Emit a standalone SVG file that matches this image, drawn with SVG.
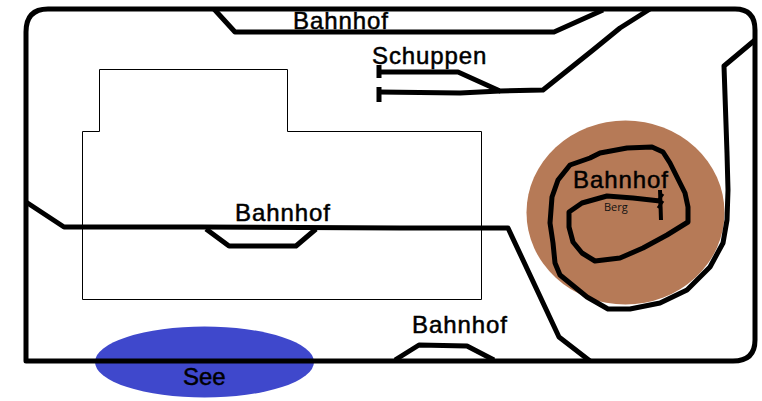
<svg xmlns="http://www.w3.org/2000/svg" width="762" height="401" viewBox="0 0 762 401">
<style>
.t{fill:none;stroke:#000;stroke-width:5;stroke-linejoin:round}
.b{fill:none;stroke:#000;stroke-width:1}
.l{font-family:"Liberation Sans",Arial,sans-serif;font-size:24px;letter-spacing:.9px;fill:#000;stroke:#000;stroke-width:.5px}
</style>
<rect width="762" height="401" fill="#fff"/>
<g id="berg"><ellipse cx="625.500" cy="212.500" rx="99" ry="92" fill="#b67a57"/></g>
<g id="see"><ellipse cx="204.500" cy="362" rx="109.500" ry="35.500" fill="#3f48cc"/></g>
<g id="gebaeude"><path class="b" d="M100 69.500H287.500V131.500H481.500V299.500H82.500V131.500H99.500V69.500Z"/></g>
<g id="connectors">
<path class="t" d="M26 200V32Q26 9 48 9H735Q755 9 755 30V340Q755 361 733 361H26V200"/>
<path class="t" d="M26 202L64 227H200L400 228H508L559 337L590 361"/>
<path class="t" d="M214 9L235 32H554L603 10"/>
<path class="t" d="M650 9L620 28L593 50L543 90L500 91L458 72H379"/>
<path class="t" d="M379 92L460 93L500 91"/>
<path class="t" d="M379 65V78M379 87V102"/>
<path class="t" d="M206 229L229 246H296L316 229"/>
<path class="t" d="M395 360L419 345L467 346L494 360"/>
<path class="t" d="M755 40L724 66L727 153L728 190L727 220L723 243L710 267L687 290L660 303L630 309L608 309L587 297L560 275L555 263L553 243L550 223L552 197L558 180L570 165L590 158L600 153L627 148L652 147L663 152L670 163L677 177L685 193L688 207L688 222L667 235L643 248L620 258L595 261L582 253L573 242L569 227L569 212L582 203L607 196L633 198L660 201"/>
<path class="t" d="M660 190L661 220" style="stroke-width:4"/>
<path class="t" d="M658 201L663 194M658 208L663 201" style="stroke-width:3"/>
</g>
<g id="label-bahnhof-1"><text class="l" x="293" y="29">Bahnhof</text></g>
<g id="label-schuppen"><text class="l" x="372" y="64">Schuppen</text></g>
<g id="label-bahnhof-2"><text class="l" x="573" y="188">Bahnhof</text></g>
<g id="label-berg"><text x="604" y="211" style="font-family:'Open Sans','Noto Sans',sans-serif;font-size:11px;fill:#111">Berg</text></g>
<g id="label-bahnhof-3"><text class="l" x="235" y="221">Bahnhof</text></g>
<g id="label-bahnhof-4"><text class="l" x="412" y="333">Bahnhof</text></g>
<g id="label-see"><text class="l" x="183" y="385" style="letter-spacing:0">See</text></g>
</svg>
